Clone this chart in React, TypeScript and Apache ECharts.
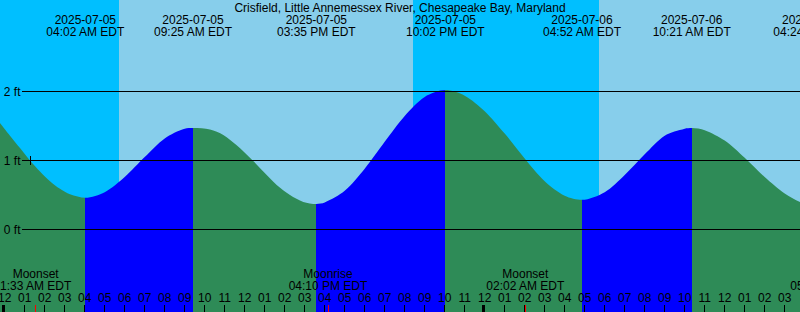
import React, { useEffect, useRef } from "react";
import * as echarts from "echarts";

const TITLE = "Crisfield, Little Annemessex River, Chesapeake Bay, Maryland";
const BASE_DATE = "2025-07-05";
const TZ = "EDT";

// Tide extremes (labels at the top)
const extremeDates = ["2025-07-05", "2025-07-05", "2025-07-05", "2025-07-05", "2025-07-06", "2025-07-06", "2025-07-06"];
const extremeTimes = ["04:02 AM", "09:25 AM", "03:35 PM", "10:02 PM", "04:52 AM", "10:21 AM", "04:24 PM"];
const extremeKinds = ["low", "high", "low", "high", "low", "high", "low"];
const extremeFeet = [0.46, 1.47, 0.37, 2.02, 0.43, 1.47, 0.37];

// Tide curve samples (hours since 2025-07-05 00:00, feet)
const sampleHours = [
  -0.235, 0.265, 0.765, 1.265, 1.765, 2.265, 2.765, 3.265,
  5, 6, 7, 8, 9,
  10.265, 10.93, 11.6, 12.4, 12.93, 13.6, 14.265, 14.93,
  16, 17, 18, 19, 20, 21,
  23, 24, 25, 26, 27, 28,
  30, 31, 32, 33, 34,
  35, 36, 37, 38, 39, 39.765,
];
const sampleFeet = [
  1.545, 1.36, 1.18, 1.0, 0.84, 0.7, 0.59, 0.51,
  0.54, 0.76, 1.05, 1.32, 1.46,
  1.45, 1.37, 1.22, 1.0, 0.84, 0.645, 0.5, 0.4,
  0.39, 0.56, 0.88, 1.27, 1.645, 1.92,
  1.94, 1.715, 1.39, 1.03, 0.7, 0.49,
  0.54, 0.79, 1.09, 1.36, 1.46,
  1.44, 1.29, 1.04, 0.76, 0.52, 0.4,
];

// Sun events (background day / night)
const sunDates = ["2025-07-05", "2025-07-05", "2025-07-06", "2025-07-06"];
const sunTimes = ["05:43 AM", "08:25 PM", "05:43 AM", "08:25 PM"];
const sunKinds = ["rise", "set", "rise", "set"];

// Moon events (labels at the bottom)
const moonNames = ["Moonset", "Moonrise", "Moonset", "Moonrise"];
const moonDates = ["2025-07-05", "2025-07-05", "2025-07-06", "2025-07-06"];
const moonTimes = ["1:33 AM", "04:10 PM", "02:02 AM", "05:15 PM"];

// Height levels drawn as lines
const levelFeet = [0, 1, 2];
const levelLabels = ["0 ft", "1 ft", "2 ft"];

// "Now" marker
const nowDate = "2025-07-05";
const nowTime = "01:16 AM";
const nowFeet = 1.0;

// Axis view range
const H_MIN = -0.235;
const H_MAX = 39.765;
const Y_MIN = -1.1957;
const Y_MAX = 3.3261;

const FONT = "'Liberation Sans', Arial, sans-serif";
const GREEN = "#2e8b57";
const BLUE = "#0000ff";
const NIGHT = "#00bfff";
const DAY = "#87ceeb";

function toHours(date: string, time: string): number {
  const day = Math.round((Date.parse(date) - Date.parse(BASE_DATE)) / 86400000);
  const m = time.match(/(\d+):(\d+)\s*(AM|PM)/)!;
  let hh = parseInt(m[1], 10) % 12;
  if (m[3] === "PM") hh += 12;
  return day * 24 + hh + parseInt(m[2], 10) / 60;
}

function pad2(n: number) {
  return n < 10 ? "0" + n : String(n);
}

export default function App() {
  const ref = useRef<HTMLDivElement>(null);

  useEffect(() => {
    document.body.style.margin = "0";
    const chart = echarts.init(ref.current!, undefined, { renderer: "svg" });

    const extremeHours = extremeDates.map((d, i) => toHours(d, extremeTimes[i]));
    const tideData: number[][] = [];
    sampleHours.forEach((h, i) => tideData.push([h, sampleFeet[i]]));
    extremeHours.forEach((h, i) => tideData.push([h, extremeFeet[i]]));
    tideData.sort((a, b) => a[0] - b[0]);

    // falling (ending at low) = green, rising (ending at high) = blue
    const pieces: any[] = [];
    extremeHours.forEach((h, i) => {
      const color = extremeKinds[i] === "low" ? GREEN : BLUE;
      if (i === 0) pieces.push({ lt: h, color });
      else pieces.push({ gte: extremeHours[i - 1], lt: h, color });
    });
    pieces.push({
      gte: extremeHours[extremeHours.length - 1],
      color: extremeKinds[extremeKinds.length - 1] === "low" ? BLUE : GREEN,
    });

    // background segments
    const sunHours = sunDates.map((d, i) => toHours(d, sunTimes[i]));
    const bg: { start: number; end: number; night: boolean }[] = [];
    let cur = H_MIN;
    let night = sunKinds[0] === "rise";
    sunHours.forEach((h, i) => {
      if (h > cur) {
        bg.push({ start: cur, end: Math.min(h, H_MAX), night });
        cur = h;
      }
      night = sunKinds[i] === "set";
    });
    if (cur < H_MAX) bg.push({ start: cur, end: H_MAX, night });

    const hourTicks: number[] = [];
    for (let h = Math.ceil(H_MIN); h <= Math.floor(H_MAX); h++) hourTicks.push(h);
    const moonHours = moonDates.map((d, i) => toHours(d, moonTimes[i]));
    const tickItems: number[][] = hourTicks.map((h) => [h, h % 24 === 0 ? 1 : 0]);
    moonHours.forEach((h) => tickItems.push([h, 2]));

    const nowHour = toHours(nowDate, nowTime);

    const textStyle = (text: string, x: number, y: number, align = "center") => ({
      text,
      x,
      y,
      fill: "#000",
      fontSize: 12,
      fontFamily: FONT,
      lineHeight: 12,
      align,
      textAlign: align,
      verticalAlign: "middle",
      textVerticalAlign: "middle",
    });

    const option: any = {
      animation: false,
      grid: { left: 0, right: 0, top: 0, bottom: 0, containLabel: false, outerBoundsMode: "none" },
      xAxis: {
        type: "value",
        min: H_MIN,
        max: H_MAX,
        z: 10,
        axisLine: { show: false },
        axisTick: { show: false },
        splitLine: { show: false },
        axisLabel: {
          show: true,
          inside: true,
          customValues: hourTicks,
          margin: 8,
          color: "#000",
          fontSize: 12,
          fontFamily: FONT,
          formatter: (v: number) => {
            const h = ((Math.round(v) % 24) + 24) % 24;
            return pad2(h % 12 === 0 ? 12 : h % 12);
          },
        },
      },
      yAxis: { type: "value", min: Y_MIN, max: Y_MAX, show: false },
      visualMap: {
        type: "piecewise",
        show: false,
        dimension: 0,
        seriesIndex: 1,
        pieces,
      },
      graphic: [
        {
          type: "text",
          x: 400,
          y: 7.8,
          z: 20,
          style: textStyle(TITLE, 0, 0),
        },
      ],
      series: [
        {
          type: "custom",
          z: 1,
          silent: true,
          data: bg.map((s) => [s.start, s.end]),
          renderItem: (params: any, api: any) => {
            const s = bg[params.dataIndex];
            const a = api.coord([s.start, Y_MAX]);
            const b = api.coord([s.end, Y_MIN]);
            const x0 = Math.round(a[0]);
            const x1 = Math.round(b[0]);
            return {
              type: "rect",
              shape: { x: x0, y: a[1], width: x1 - x0, height: b[1] - a[1] },
              style: { fill: s.night ? NIGHT : DAY },
            };
          },
        },
        {
          type: "line",
          z: 2,
          silent: true,
          data: tideData,
          smooth: 0.3,
          symbol: "none",
          lineStyle: { width: 0, opacity: 0 },
          areaStyle: { opacity: 1, origin: "start" },
        },
        {
          type: "custom",
          z: 3,
          silent: true,
          data: levelFeet.map((v) => [H_MIN, v]),
          renderItem: (params: any, api: any) => {
            const v = levelFeet[params.dataIndex];
            const p = api.coord([H_MIN, v]);
            const y = Math.floor(p[1]);
            const w = api.getWidth();
            return {
              type: "group",
              children: [
                { type: "rect", shape: { x: 22, y, width: w - 22, height: 1 }, style: { fill: "#000" } },
                { type: "text", style: textStyle(levelLabels[params.dataIndex], 20.5, y + 0.5, "right") },
              ],
            };
          },
        },
        {
          type: "custom",
          z: 3,
          silent: true,
          data: tickItems,
          renderItem: (params: any, api: any) => {
            const it = tickItems[params.dataIndex];
            const p = api.coord([it[0], Y_MIN]);
            const px = Math.floor(p[0]);
            const wide = it[1] === 1;
            return {
              type: "rect",
              shape: { x: wide ? px - 2 : px, y: Math.round(p[1]) - 7, width: wide ? 3 : 1, height: 7 },
              style: { fill: it[1] === 2 ? "#ff0000" : "#000" },
            };
          },
        },
        {
          type: "custom",
          z: 4,
          silent: true,
          data: extremeHours.map((h) => [h, Y_MAX]),
          renderItem: (params: any, api: any) => {
            const i = params.dataIndex;
            const p = api.coord([extremeHours[i], Y_MAX]);
            return {
              type: "text",
              style: textStyle(extremeDates[i] + "\n" + extremeTimes[i] + " " + TZ, p[0], 25.8),
            };
          },
        },
        {
          type: "custom",
          z: 4,
          silent: true,
          data: moonHours.map((h) => [h, Y_MIN]),
          renderItem: (params: any, api: any) => {
            const i = params.dataIndex;
            const p = api.coord([moonHours[i], Y_MIN]);
            return {
              type: "text",
              style: textStyle(moonNames[i] + "\n" + moonTimes[i] + " " + TZ, p[0], 280),
            };
          },
        },
        {
          type: "custom",
          z: 5,
          silent: true,
          data: [[nowHour, nowFeet]],
          renderItem: (params: any, api: any) => {
            const p = api.coord([nowHour, nowFeet]);
            const cx = Math.floor(p[0]);
            const cy = Math.floor(p[1]);
            return {
              type: "group",
              children: [
                { type: "rect", shape: { x: cx - 4, y: cy, width: 9, height: 1 }, style: { fill: "#000" } },
                { type: "rect", shape: { x: cx, y: cy - 4, width: 1, height: 9 }, style: { fill: "#000" } },
              ],
            };
          },
        },
      ],
    };

    chart.setOption(option);
    return () => chart.dispose();
  }, []);

  return <div ref={ref} style={{ width: 800, height: 312 }} />;
}
